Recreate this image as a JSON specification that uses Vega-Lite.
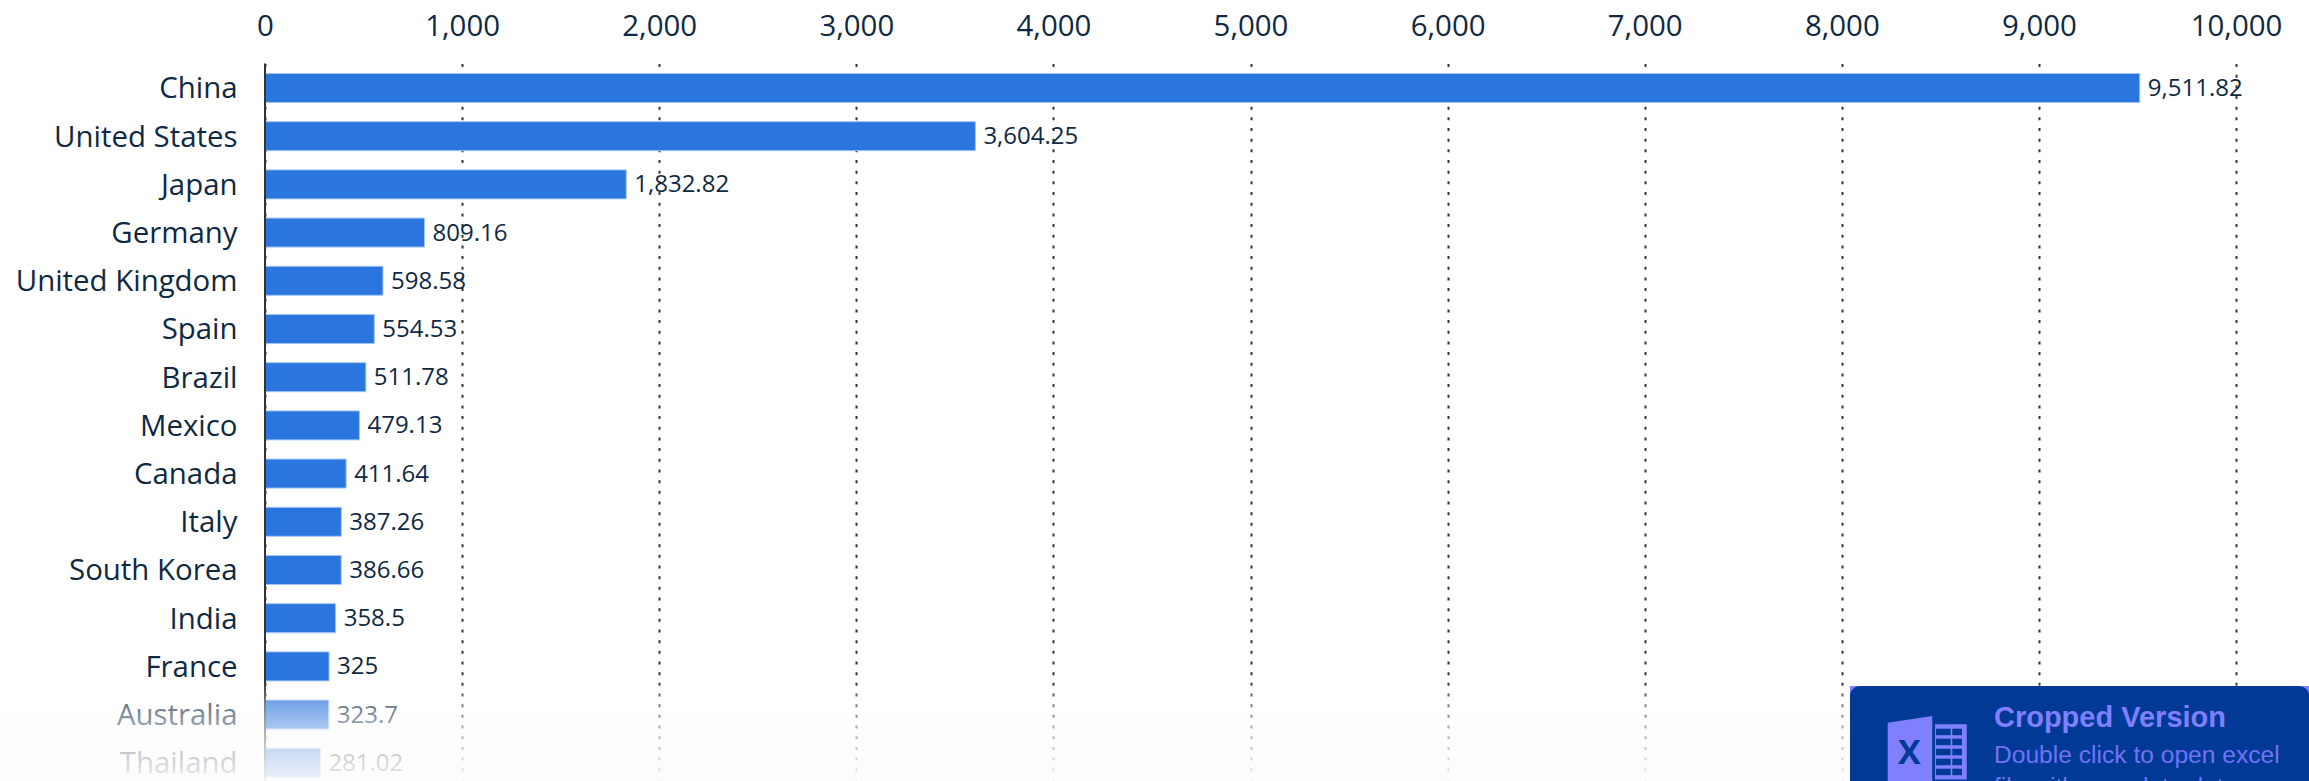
{
"$schema":"https://vega.github.io/schema/vega-lite/v6.json",
"width":1971,"height":717.5,
"autosize":{"type":"none"},
"padding":{"left":265,"top":63.5,"right":73,"bottom":0},
"background":"#ffffff",
"config":{"view":{"stroke":null},"font":"Open Sans"},
"datasets":{
"rows":[
{"country":"China","value":9511.82},
{"country":"United States","value":3604.25},
{"country":"Japan","value":1832.82},
{"country":"Germany","value":809.16},
{"country":"United Kingdom","value":598.58},
{"country":"Spain","value":554.53},
{"country":"Brazil","value":511.78},
{"country":"Mexico","value":479.13},
{"country":"Canada","value":411.64},
{"country":"Italy","value":387.26},
{"country":"South Korea","value":386.66},
{"country":"India","value":358.5},
{"country":"France","value":325},
{"country":"Australia","value":323.7},
{"country":"Thailand","value":281.02}
],
"cells":[
{"a":8478,"b":8552.5,"c":92.71,"d":93.62},{"a":8560.6,"b":8609.8,"c":92.71,"d":93.62},
{"a":8478,"b":8552.5,"c":94.1,"d":95.01},{"a":8560.6,"b":8609.8,"c":94.1,"d":95.01},
{"a":8478,"b":8552.5,"c":95.5,"d":96.41},{"a":8560.6,"b":8609.8,"c":95.5,"d":96.41},
{"a":8478,"b":8552.5,"c":96.89,"d":97.8},{"a":8560.6,"b":8609.8,"c":96.89,"d":97.8},
{"a":8478,"b":8552.5,"c":98.28,"d":99.19},{"a":8560.6,"b":8609.8,"c":98.28,"d":99.19}
]
},
"resolve":{"scale":{"y":"independent"}},
"layer":[
{"data":{"name":"rows"},
 "mark":{"type":"bar","fill":"#2b75de","stroke":"#a3c6f5","strokeWidth":1},
 "encoding":{
  "y":{"field":"country","type":"nominal","sort":null,"title":null,
   "scale":{"type":"band","paddingInner":0.3983,"paddingOuter":0.142,"align":0.729},
   "axis":{"orient":"left","domain":false,"ticks":false,"labelPadding":28,"labelOffset":1.5,"labelFontSize":29.4,"labelColor":"#0f2942","labelFont":"Open Sans","labelLimit":500,"labelOverlap":false,"grid":false}},
  "x":{"field":"value","type":"quantitative","title":null,
   "scale":{"domain":[0,10000],"nice":false},
   "axis":{"orient":"top","values":[0,1000,2000,3000,4000,5000,6000,7000,8000,9000,10000],"labelExpr":"format(datum.value, ',')","domain":false,"ticks":false,"labelPadding":22,"labelFontSize":29.4,"labelColor":"#0f2942","labelFont":"Open Sans","labelOverlap":false,"labelFlush":false,"grid":true,"gridColor":"#333333","gridWidth":2,"gridDash":[3,7.67]}}
 }},
{"data":{"name":"rows"},
 "mark":{"type":"text","align":"left","baseline":"middle","dx":8,"dy":1,"font":"Open Sans","fontSize":24,"fill":"#0f2942"},
 "encoding":{
  "y":{"field":"country","type":"nominal","sort":null,"axis":null,
   "scale":{"type":"band","paddingInner":0.3983,"paddingOuter":0.142,"align":0.729}},
  "x":{"field":"value","type":"quantitative","title":null,"scale":{"domain":[0,10000],"nice":false}},
  "text":{"field":"value","type":"quantitative","format":","}
 }},
{"data":{"values":[{"v":0}]},
 "mark":{"type":"rule","stroke":"#333333","strokeWidth":2},
 "encoding":{"x":{"field":"v","type":"quantitative","title":null,"scale":{"domain":[0,10000],"nice":false}}}},
{"data":{"values":[{"a":-1345,"b":10371,"c":85.92,"d":100}]},
 "mark":{"type":"rect","fill":{"gradient":"linear","x1":0,"y1":0,"x2":0,"y2":1,"stops":[
   {"offset":0,"color":"rgba(255,255,255,0)"},
   {"offset":0.198,"color":"rgba(254,254,254,0.32)"},
   {"offset":0.475,"color":"rgba(252,252,252,0.6)"},
   {"offset":0.673,"color":"rgba(252,252,252,0.74)"},
   {"offset":0.95,"color":"rgba(252,252,252,0.9)"},
   {"offset":1,"color":"rgba(252,252,252,0.95)"}]}},
 "encoding":{
  "x":{"field":"a","type":"quantitative","title":null,"scale":{"domain":[0,10000],"nice":false}},"x2":{"field":"b"},
  "y":{"field":"c","type":"quantitative","scale":{"domain":[0,100],"reverse":true,"nice":false},"axis":null},"y2":{"field":"d"}}},
{"data":{"values":[{"a":8041.6,"b":10371,"c":86.76,"d":100}]},
 "mark":{"type":"rect","fill":"#8080ff"},
 "encoding":{
  "x":{"field":"a","type":"quantitative","title":null,"scale":{"domain":[0,10000],"nice":false}},"x2":{"field":"b"},
  "y":{"field":"c","type":"quantitative","scale":{"domain":[0,100],"reverse":true,"nice":false},"axis":null},"y2":{"field":"d"}}},
{"data":{"values":[{"a":8041.6,"b":10371,"c":86.76,"d":103}]},
 "mark":{"type":"rect","fill":"#003a96","cornerRadius":10},
 "encoding":{
  "x":{"field":"a","type":"quantitative","title":null,"scale":{"domain":[0,10000],"nice":false}},"x2":{"field":"b"},
  "y":{"field":"c","type":"quantitative","scale":{"domain":[0,100],"reverse":true,"nice":false},"axis":null},"y2":{"field":"d"}}},
{"data":{"values":[{"a":8233,"c":91.87,"d":100},{"a":8459,"c":90.94,"d":100}]},
 "mark":{"type":"area","fill":"#8080ff","line":false},
 "encoding":{
  "x":{"field":"a","type":"quantitative","title":null,"scale":{"domain":[0,10000],"nice":false}},
  "y":{"field":"c","type":"quantitative","scale":{"domain":[0,100],"reverse":true,"nice":false},"axis":null},"y2":{"field":"d"}}},
{"data":{"values":[{"a":8473,"b":8634,"c":92.1,"d":99.8}]},
 "mark":{"type":"rect","fill":"#8080ff"},
 "encoding":{
  "x":{"field":"a","type":"quantitative","title":null,"scale":{"domain":[0,10000],"nice":false}},"x2":{"field":"b"},
  "y":{"field":"c","type":"quantitative","scale":{"domain":[0,100],"reverse":true,"nice":false},"axis":null},"y2":{"field":"d"}}},
{"data":{"name":"cells"},
 "mark":{"type":"rect","fill":"#003a96"},
 "encoding":{
  "x":{"field":"a","type":"quantitative","title":null,"scale":{"domain":[0,10000],"nice":false}},"x2":{"field":"b"},
  "y":{"field":"c","type":"quantitative","scale":{"domain":[0,100],"reverse":true,"nice":false},"axis":null},"y2":{"field":"d"}}},
{"data":{"values":[{"a":8342.5,"c":97.6,"t":"X"}]},
 "mark":{"type":"text","align":"center","baseline":"alphabetic","font":"Open Sans","fontWeight":"bold","fontSize":34,"fill":"#003a96"},
 "encoding":{
  "x":{"field":"a","type":"quantitative","title":null,"scale":{"domain":[0,10000],"nice":false}},
  "y":{"field":"c","type":"quantitative","scale":{"domain":[0,100],"reverse":true,"nice":false},"axis":null},
  "text":{"field":"t"}}},
{"data":{"values":[{"a":8772,"c":92.5,"t":"Cropped Version"}]},
 "mark":{"type":"text","align":"left","baseline":"alphabetic","font":"Liberation Sans","fontWeight":"bold","fontSize":29,"fill":"#7f7fff"},
 "encoding":{
  "x":{"field":"a","type":"quantitative","title":null,"scale":{"domain":[0,10000],"nice":false}},
  "y":{"field":"c","type":"quantitative","scale":{"domain":[0,100],"reverse":true,"nice":false},"axis":null},
  "text":{"field":"t"}}},
{"data":{"values":[{"a":8772,"c":97.45,"t":"Double click to open excel"},{"a":8772,"c":101.95,"t":"file with complete data"}]},
 "mark":{"type":"text","align":"left","baseline":"alphabetic","font":"Liberation Sans","fontSize":24.6,"fill":"#7272f5"},
 "encoding":{
  "x":{"field":"a","type":"quantitative","title":null,"scale":{"domain":[0,10000],"nice":false}},
  "y":{"field":"c","type":"quantitative","scale":{"domain":[0,100],"reverse":true,"nice":false},"axis":null},
  "text":{"field":"t"}}}
]
}
